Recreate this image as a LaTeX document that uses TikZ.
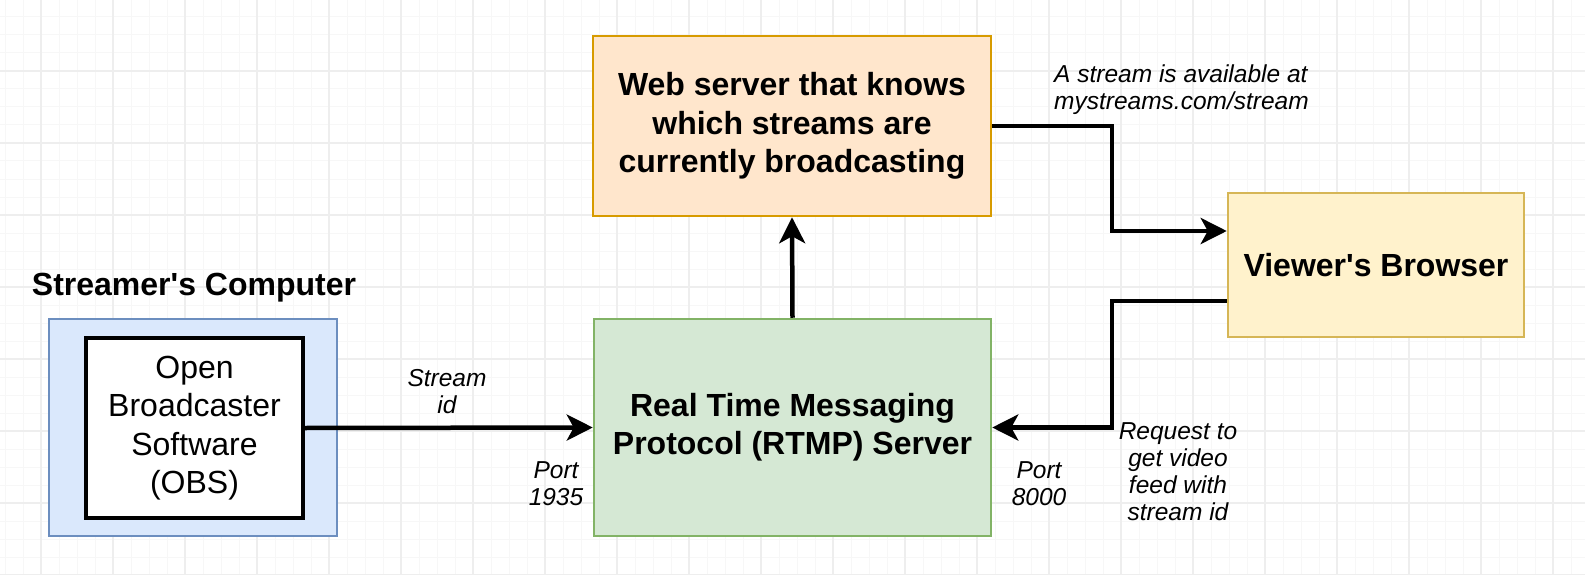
\documentclass[tikz,border=0pt]{standalone}
\usepackage{fontspec}
\setmainfont{Liberation Sans}
\usetikzlibrary{arrows.meta,calc}
\definecolor{gridminor}{HTML}{F7F7F7}
\definecolor{gridmajor}{HTML}{EEEEEE}
\definecolor{bluefill}{HTML}{DAE8FC}
\definecolor{bluedraw}{HTML}{6C8EBF}
\definecolor{greenfill}{HTML}{D5E8D4}
\definecolor{greendraw}{HTML}{82B366}
\definecolor{orangefill}{HTML}{FFE6CC}
\definecolor{orangedraw}{HTML}{D79B00}
\definecolor{yellowfill}{HTML}{FFF2CC}
\definecolor{yellowdraw}{HTML}{D6B656}
\tikzset{
  box/.style={rectangle, inner sep=0pt, line width=2.5pt, align=center},
  boldtxt/.style={font=\fontsize{32}{38.4}\selectfont\bfseries},
  regtxt/.style={font=\fontsize{32}{38.4}\selectfont},
  lbl/.style={font=\fontsize{24.5}{27}\selectfont\itshape, inner sep=0pt, align=center},
  arr/.style={line width=4.5pt, -{Stealth[length=26pt,width=26pt,inset=7pt]}},
}
\begin{document}
\begin{tikzpicture}[x=1pt,y=-1pt]
\useasboundingbox (0,0) rectangle (1585,575);
\fill[white] (0,0) rectangle (1585,575);
% grid
\foreach \k in {0,...,88} {\draw[gridminor, line width=1pt] ({5+18*\k},0) -- ({5+18*\k},575);}
\foreach \k in {0,...,32} {\draw[gridminor, line width=1pt] (0,{-1+18*\k}) -- (1585,{-1+18*\k});}
\foreach \k in {0,...,21} {\draw[gridmajor, line width=1.3pt] ({41+72*\k},0) -- ({41+72*\k},575);}
\foreach \k in {1,...,8} {\draw[gridmajor, line width=1.3pt] (0,{-1+72*\k}) -- (1585,{-1+72*\k});}

% nodes
\node[boldtxt] (title) at (194,288) {Streamer\textquotesingle s Computer};
\node[box, fill=bluefill, draw=bluedraw, minimum width=288pt, minimum height=217pt] (pc) at (193,427.5) {};
\node[box, regtxt, fill=white, draw=black, line width=4pt, minimum width=217pt, minimum height=180pt] (obs) at (194.5,428) {Open\\Broadcaster\\Software\\(OBS)};
\node[box, boldtxt, fill=greenfill, draw=greendraw, minimum width=397pt, minimum height=217pt] (rtmp) at (792.5,427.5) {Real Time Messaging\\Protocol (RTMP) Server};
\node[box, boldtxt, fill=orangefill, draw=orangedraw, minimum width=398pt, minimum height=180pt] (web) at (792,126) {Web server that knows\\which streams are\\currently broadcasting};
\node[box, boldtxt, fill=yellowfill, draw=yellowdraw, minimum width=296pt, minimum height=144pt] (viewer) at (1376,265) {Viewer\textquotesingle s Browser};

% labels
\node[lbl, anchor=west, align=left] (lavail) at (1054,90) {A stream is available at\\mystreams.com/stream};
\node[lbl] (lstream) at (447,392) {Stream\\id};
\node[lbl] (lport1) at (556,483.5) {Port\\1935};
\node[lbl] (lport2) at (1039,483.5) {Port\\8000};
\node[lbl] (lreq) at (1178,472) {Request to\\get video\\feed with\\stream id};

% connectors
\coordinate (bend) at (1112,0);
\coordinate (vin) at ([yshift=34pt]viewer.west);
\coordinate (vout) at ([yshift=-36pt]viewer.west);
\draw[arr] (obs.east) -- (rtmp.west);
\draw[arr] (rtmp.north) -- (web.south);
\draw[arr] (web.east) -| (bend |- vin) -- (vin);
\draw[arr] (vout) -| (bend |- rtmp.east) -- (rtmp.east);
\end{tikzpicture}
\end{document}
